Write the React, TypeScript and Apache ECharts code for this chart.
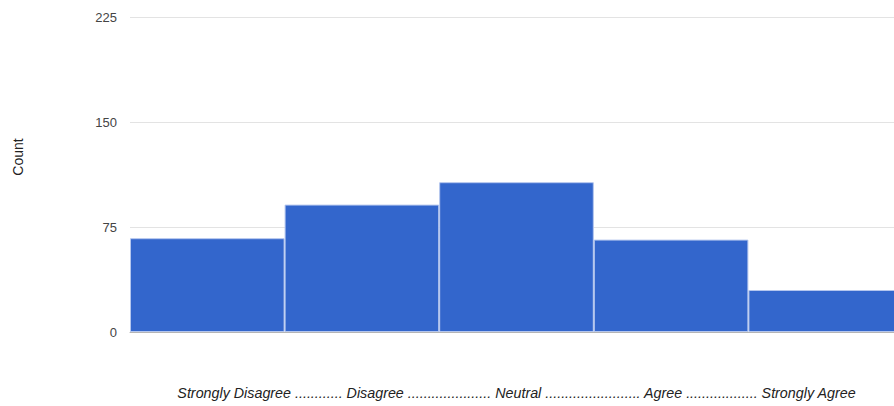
import React, { useEffect, useRef } from "react";
import * as echarts from "echarts";

const categories = ["Strongly Disagree", "Disagree", "Neutral", "Agree", "Strongly Agree"];
const counts = [67, 91, 107, 66, 30];
const xTitle =
  "Strongly Disagree ............ Disagree ..................... Neutral ........................ Agree .................. Strongly Agree";
const yTitle = "Count";
const yTicks = { min: 0, max: 225, interval: 75 };

export default function App() {
  const ref = useRef<HTMLDivElement>(null);
  useEffect(() => {
    document.body.style.margin = "0";
    document.body.style.overflow = "hidden";
    const chart = echarts.init(ref.current!, null, { renderer: "svg" });
    chart.setOption({
      animation: false,
      grid: { left: 130, right: 7, top: 17, bottom: 74 },
      graphic: [
        {
          type: "text",
          x: 18,
          y: 157,
          rotation: Math.PI / 2,
          style: {
            text: yTitle,
            align: "center",
            verticalAlign: "middle",
            fontFamily: "Liberation Sans, Arial, sans-serif",
            fontSize: 14,
            fill: "#222",
          },
        },
      ],
      xAxis: {
        type: "category",
        data: categories,
        axisLabel: { show: false },
        axisTick: { show: false },
        axisLine: { lineStyle: { color: "#b5b5b5", width: 1 } },
        name: xTitle,
        nameLocation: "middle",
        nameGap: 54,
        nameTextStyle: {
          fontFamily: "Liberation Sans, Arial, sans-serif",
          fontStyle: "italic",
          fontSize: 14.3,
          color: "#222",
        },
      },
      yAxis: {
        type: "value",
        min: yTicks.min,
        max: yTicks.max,
        interval: yTicks.interval,
        axisLine: { show: false },
        axisTick: { show: false },
        splitLine: { lineStyle: { color: "#e3e3e3", width: 1 } },
        axisLabel: {
          margin: 13,
          fontFamily: "Liberation Sans, Arial, sans-serif",
          fontSize: 13,
          color: "#444",
        },
      },
      series: [
        {
          type: "bar",
          data: counts,
          barCategoryGap: 0,
          itemStyle: { color: "#3366cc", borderColor: "#b4c6ee", borderWidth: 1 },
        },
      ],
    });
    return () => chart.dispose();
  }, []);
  return (
    <div
      ref={ref}
      style={{ position: "fixed", left: 0, top: 0, width: 910, height: 406, background: "#fff" }}
    />
  );
}
